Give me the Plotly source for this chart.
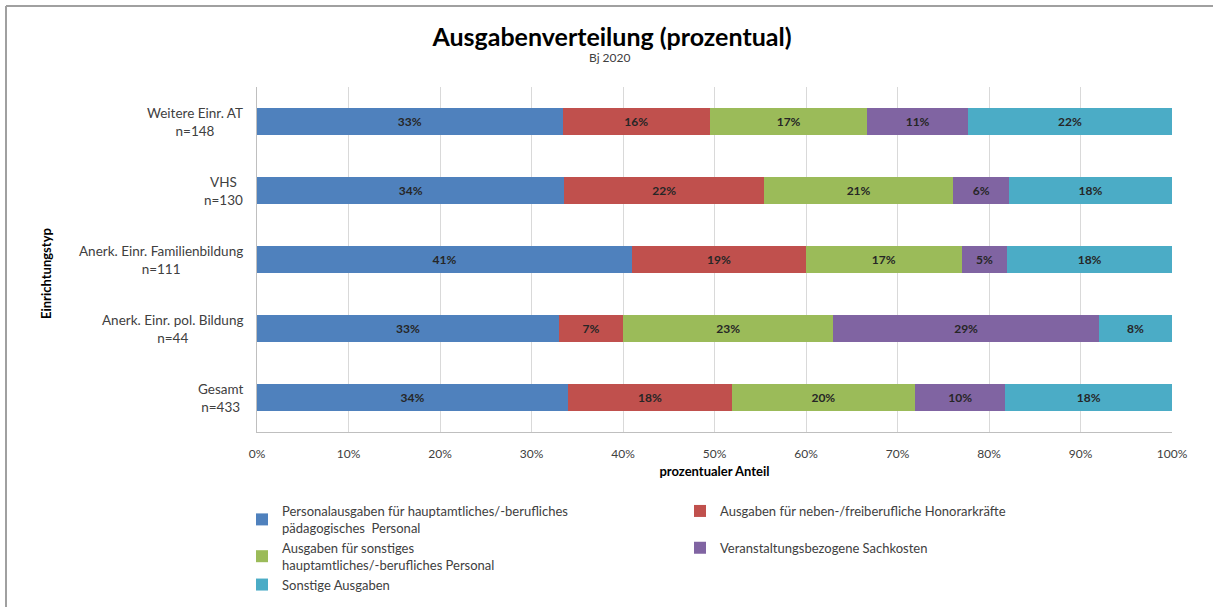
import plotly.graph_objects as go

categories = ["Weitere Einr. AT", "VHS", "Anerk. Einr. Familienbildung", "Anerk. Einr. pol. Bildung", "Gesamt"]
n_values = [148, 130, 111, 44, 433]

series_names = [
    "Personalausgaben für hauptamtliches/-berufliches<br>pädagogisches  Personal",
    "Ausgaben für neben-/freiberufliche Honorarkräfte",
    "Ausgaben für sonstiges<br>hauptamtliches/-berufliches Personal",
    "Veranstaltungsbezogene Sachkosten",
    "Sonstige Ausgaben",
]
personal = [33.4, 33.6, 41.0, 33.0, 34.0]
honorar = [16.1, 21.8, 19.0, 7.0, 17.9]
sonstiges_personal = [17.2, 20.7, 17.0, 23.0, 20.0]
sachkosten = [11.0, 6.1, 5.0, 29.0, 9.9]
sonstige = [22.3, 17.8, 18.0, 8.0, 18.2]
series_values = [personal, honorar, sonstiges_personal, sachkosten, sonstige]
colors = ["#4F81BD", "#C0504D", "#9BBB59", "#8064A2", "#4BACC6"]

tick_vals = [0, 10, 20, 30, 40, 50, 60, 70, 80, 90, 100]
tick_text = [f"{v}%" for v in tick_vals]

FONT = "Lato"
W, H = 1213, 607
ML, MR, MT, MB = 257, 41, 87, 175
PW, PH = W - ML - MR, H - MT - MB


def px_to_paper_x(px):
    return (px - ML) / PW


def px_to_paper_y(py):
    return (H - MB - py) / PH


fig = go.Figure()
for name, vals, col in zip(series_names, series_values, colors):
    fig.add_trace(go.Bar(
        y=categories, x=vals, name=name, orientation="h",
        marker=dict(color=col, line=dict(width=0)),
        width=0.39,
        texttemplate="<b>%{x:.0f}%</b>",
        textposition="inside", insidetextanchor="middle",
        textangle=0, constraintext="none",
        textfont=dict(family=FONT, size=12, color="#262626"),
    ))

for cat, n in zip(categories, n_values):
    fig.add_annotation(
        x=px_to_paper_x(245), xref="paper", y=cat, yref="y",
        text=f"{cat}<br>n={n}", showarrow=False,
        xanchor="right", yanchor="middle", align="center",
        font=dict(family=FONT, size=13.5, color="#404040"),
    )

fig.add_annotation(
    x=px_to_paper_x(609), xref="paper", y=px_to_paper_y(58), yref="paper",
    text="Bj 2020", showarrow=False, xanchor="center", yanchor="middle",
    font=dict(family=FONT, size=12, color="#404040"),
)

fig.add_annotation(
    x=px_to_paper_x(46), xref="paper", y=px_to_paper_y(274), yref="paper",
    text="<b>Einrichtungstyp</b>", showarrow=False, textangle=-90,
    xanchor="center", yanchor="middle",
    font=dict(family=FONT, size=13, color="#000000"),
)

# chart frame (left and top edges)
fig.add_shape(type="line", xref="paper", yref="paper",
              x0=px_to_paper_x(6), x1=px_to_paper_x(W + 20),
              y0=px_to_paper_y(6), y1=px_to_paper_y(6),
              line=dict(color="#A0A0A0", width=2))
fig.add_shape(type="line", xref="paper", yref="paper",
              x0=px_to_paper_x(6), x1=px_to_paper_x(6),
              y0=px_to_paper_y(H + 20), y1=px_to_paper_y(6),
              line=dict(color="#A0A0A0", width=2))

fig.update_layout(
    barmode="stack",
    width=W, height=H,
    margin=dict(l=ML, r=MR, t=MT, b=MB, autoexpand=False),
    paper_bgcolor="white", plot_bgcolor="white",
    title=dict(text="<b>Ausgabenverteilung (prozentual)</b>",
               x=612 / W, xref="container", xanchor="center",
               y=1 - 37 / H, yref="container", yanchor="middle",
               font=dict(family=FONT, size=25, color="#000000")),
    font=dict(family=FONT, color="#404040"),
    xaxis=dict(range=[0, 100], tickvals=tick_vals, ticktext=tick_text,
               showgrid=True, gridcolor="#D9D9D9", gridwidth=1,
               showline=True, linecolor="#BFBFBF", linewidth=1,
               ticks="", zeroline=False, ticklabelstandoff=11,
               tickfont=dict(family=FONT, size=12, color="#404040"),
               title=dict(text="<b>prozentualer Anteil</b>", standoff=6,
                          font=dict(family=FONT, size=13, color="#000000"))),
    yaxis=dict(categoryorder="array", categoryarray=categories,
               autorange="reversed", showticklabels=False,
               showline=True, linecolor="#BFBFBF", linewidth=1,
               showgrid=False, ticks=""),
    legend=dict(orientation="h", x=px_to_paper_x(242), xanchor="left",
                y=px_to_paper_y(496), yanchor="top",
                entrywidth=393, entrywidthmode="pixels",
                font=dict(family=FONT, size=13, color="#404040"),
                itemwidth=30, tracegroupgap=0, traceorder="normal"),
    showlegend=True,
)

fig.write_html("out.html", config={"displayModeBar": False},
               post_script="document.body.style.margin='0';")
